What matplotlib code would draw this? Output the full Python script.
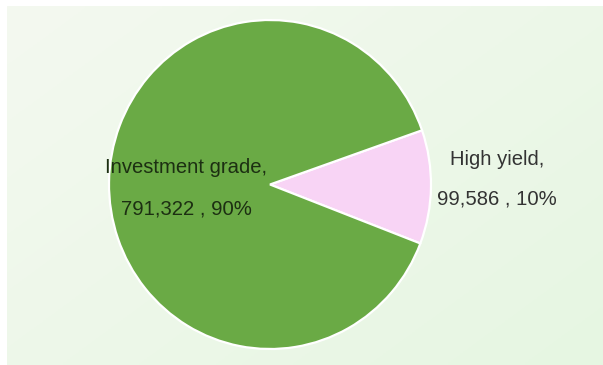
import numpy as np
import matplotlib
matplotlib.use("Agg")
import matplotlib.pyplot as plt

# Portfolio split by credit quality
categories = ["High yield", "Investment grade"]
amounts = [99586, 791322]
amount_labels = ["99,586", "791,322"]
pct_labels = ["10%", "90%"]

slice_colors = ["#f8d4f5", "#6aaa45"]
text_colors = ["#333333", "#1c2f12"]

W, H = 603, 365
fig = plt.figure(figsize=(W / 100, H / 100), dpi=100)
fig.patch.set_facecolor("white")

# Soft green gradient panel behind the chart
bg = fig.add_axes([7 / W, 0, (W - 7) / W, (H - 6) / H])
bg.set_axis_off()
gx = np.linspace(0, 1, 200)
gy = np.linspace(0, 1, 120)
GX, GY = np.meshgrid(gx, gy)
t = np.clip(0.55 * GX + 0.45 * GY, 0, 1)
c0 = np.array([0xf4, 0xf9, 0xf0]) / 255.0
c1 = np.array([0xe6, 0xf6, 0xe2]) / 255.0
img = c0[None, None, :] * (1 - t[..., None]) + c1[None, None, :] * t[..., None]
bg.imshow(img, extent=[0, 1, 0, 1], origin="upper", aspect="auto")
bg.set_xlim(0, 1)
bg.set_ylim(0, 1)

# Pie axes placed so the disc spans its full box
cx, cy, rx, ry = 270, 184.5, 161, 164.5
ax = fig.add_axes([(cx - rx) / W, (H - (cy + ry)) / H, 2 * rx / W, 2 * ry / H])
ax.set_axis_off()
ax.pie(amounts, colors=slice_colors, startangle=-21, counterclock=True,
       radius=1.0, wedgeprops=dict(edgecolor="white", linewidth=1.6))
ax.set_aspect("auto")
ax.set_xlim(-1, 1)
ax.set_ylim(-1, 1)

# Two-line data labels: "<name>," then "<value> , <pct>"
label_pos = [
    ((1.41, 0.1185), (1.41, -0.1246)),
    ((-0.52, 0.0699), (-0.52, -0.1854)),
]
for i, name in enumerate(categories):
    (x1, y1), (x2, y2) = label_pos[i]
    ax.text(x1, y1, f"{name},", ha="center", va="baseline",
            fontsize=14.6, family="Liberation Sans", color=text_colors[i],
            clip_on=False)
    ax.text(x2, y2, f"{amount_labels[i]} , {pct_labels[i]}", ha="center",
            va="baseline", fontsize=14.6, family="Liberation Sans",
            color=text_colors[i], clip_on=False)

fig.savefig("out.png", dpi=100, facecolor=fig.get_facecolor())
